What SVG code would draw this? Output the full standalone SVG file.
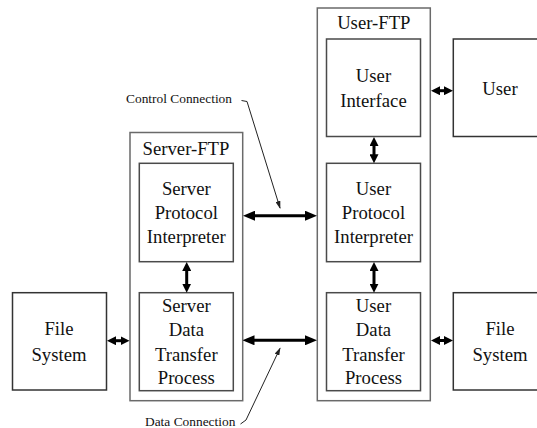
<svg xmlns="http://www.w3.org/2000/svg" width="537" height="428" viewBox="0 0 537 428">
<style>
  .outer { fill: #fff; stroke: #6a6a6a; stroke-width: 1.5; }
  .inner { fill: #fff; stroke: #4a4a4a; stroke-width: 1.5; }
  .ext { fill: #fff; stroke: #333; stroke-width: 1.5; }
  .t { font-family: "Liberation Serif", "Times New Roman", serif; font-size: 18.7px; fill: #111; text-anchor: middle; }
  .lbl { font-family: "Liberation Serif", "Times New Roman", serif; font-size: 13.4px; fill: #111; }
  .big { stroke: #000; stroke-width: 3; fill: none; marker-start: url(#ah); marker-end: url(#ah); }
  .small { stroke: #000; stroke-width: 3; fill: none; marker-start: url(#ahs); marker-end: url(#ahs); }
  .lead { stroke: #222; stroke-width: 1; fill: none; }
</style>
<defs>
  <marker id="ah" viewBox="0 0 12 10" refX="2" refY="5" markerWidth="12" markerHeight="10" markerUnits="userSpaceOnUse" orient="auto-start-reverse">
    <path d="M0,0 L12,5 L0,10 z" fill="#000"/>
  </marker>
  <marker id="ahs" viewBox="0 0 9 9" refX="1" refY="4.5" markerWidth="9" markerHeight="9" markerUnits="userSpaceOnUse" orient="auto-start-reverse">
    <path d="M0,0 L9,4.5 L0,9 z" fill="#000"/>
  </marker>
  <marker id="lh" viewBox="0 0 8 5" refX="7" refY="2.5" markerWidth="8" markerHeight="5" markerUnits="userSpaceOnUse" orient="auto">
    <path d="M0,0 L8,2.5 L0,5 z" fill="#222"/>
  </marker>
</defs>

<g id="server-ftp">
  <rect class="outer" x="130" y="132.5" width="112.7" height="268.2"/>
  <text class="t" x="186" y="155">Server-FTP</text>
</g>
<g id="server-pi">
  <rect class="inner" x="139.3" y="163.3" width="94" height="98.4"/>
  <text class="t" x="186.3" y="195">Server</text>
  <text class="t" x="186.3" y="219">Protocol</text>
  <text class="t" x="186.3" y="243">Interpreter</text>
</g>
<g id="server-dtp">
  <rect class="inner" x="139.3" y="292.7" width="94" height="98"/>
  <text class="t" x="186.3" y="312">Server</text>
  <text class="t" x="186.3" y="336">Data</text>
  <text class="t" x="186.3" y="361">Transfer</text>
  <text class="t" x="186.3" y="384">Process</text>
</g>
<g id="user-ftp">
  <rect class="outer" x="317.3" y="8" width="113" height="392.7"/>
  <text class="t" x="373.8" y="29">User-FTP</text>
</g>
<g id="user-interface">
  <rect class="inner" x="326.5" y="39" width="94" height="97.5"/>
  <text class="t" x="373.5" y="82">User</text>
  <text class="t" x="373.5" y="107">Interface</text>
</g>
<g id="user-pi">
  <rect class="inner" x="326.5" y="163.3" width="94" height="98.4"/>
  <text class="t" x="373.5" y="195">User</text>
  <text class="t" x="373.5" y="219">Protocol</text>
  <text class="t" x="373.5" y="243">Interpreter</text>
</g>
<g id="user-dtp">
  <rect class="inner" x="326.5" y="292.7" width="94" height="98"/>
  <text class="t" x="373.5" y="312">User</text>
  <text class="t" x="373.5" y="336">Data</text>
  <text class="t" x="373.5" y="361">Transfer</text>
  <text class="t" x="373.5" y="384">Process</text>
</g>
<g id="user">
  <rect class="ext" x="453.3" y="39" width="94" height="97.5"/>
  <text class="t" x="500" y="95">User</text>
</g>
<g id="file-system-left">
  <rect class="ext" x="12.5" y="292.7" width="94" height="97.3"/>
  <text class="t" x="59" y="335">File</text>
  <text class="t" x="59" y="361">System</text>
</g>
<g id="file-system-right">
  <rect class="ext" x="453.3" y="292.7" width="94" height="97.3"/>
  <text class="t" x="500" y="335">File</text>
  <text class="t" x="500" y="361">System</text>
</g>
<g id="control-label">
  <text class="lbl" x="126" y="103.3">Control Connection</text>
</g>
<g id="data-label">
  <text class="lbl" x="145" y="425.5">Data Connection</text>
</g>

<g id="connectors">
  <line class="big" x1="253" y1="215.7" x2="307" y2="215.7"/>
  <line class="big" x1="252.5" y1="340.3" x2="307" y2="340.3"/>
  <line class="small" x1="439" y1="90.7" x2="445" y2="90.7"/>
  <line class="small" x1="115" y1="340.7" x2="121.5" y2="340.7"/>
  <line class="small" x1="439" y1="340.5" x2="445" y2="340.5"/>
  <line class="small" x1="186.7" y1="270" x2="186.7" y2="284.7"/>
  <line class="small" x1="374" y1="145" x2="374" y2="155.3"/>
  <line class="small" x1="374" y1="270" x2="374" y2="284.7"/>
  <path class="lead" d="M241.5,100.5 L247,101.5 L280,208" marker-end="url(#lh)"/>
  <path class="lead" d="M240.5,424 L246,420 L280,348.3" marker-end="url(#lh)"/>
</g>
</svg>
